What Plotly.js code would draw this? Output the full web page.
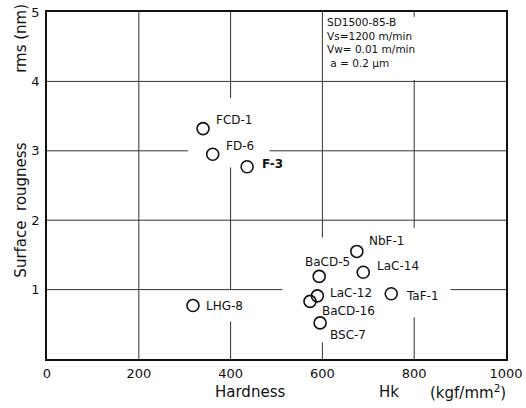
<!DOCTYPE html>
<html>
<head>
<meta charset="utf-8">
<script src="https://cdn.plot.ly/plotly-3.0.1.min.js"></script>
<style>html,body{margin:0;padding:0;background:#fff;}#chart{width:526px;height:408px;}</style>
</head>
<body>
<div id="chart"></div>
<script>
// ---- data ----
const glassNames = ["FCD-1","FD-6","F-3","LHG-8","NbF-1","BaCD-5","LaC-14","LaC-12","BaCD-16","TaF-1","BSC-7"];
const hardnessHk = [340, 361, 436, 318, 675, 593, 689, 589, 573, 750, 595];
const roughnessRms = [3.32, 2.95, 2.77, 0.77, 1.55, 1.19, 1.25, 0.91, 0.83, 0.94, 0.52];
const xTickValues = [0, 200, 400, 600, 800, 1000];
const yTickValues = [1, 2, 3, 4, 5];
const conditionLines = ["SD1500-85-B", "Vs=1200 m/min", "Vw= 0.01 m/min", " a = 0.2 μm"];

// ---- label placement (pixel offsets from each marker) ----
const labelStyle = {
  "FCD-1":  {xs: 11, ys: 9,   xa: "left"},
  "FD-6":   {xs: 11, ys: 8,   xa: "left"},
  "F-3":    {xs: 13, ys: 3,   xa: "left", bold: true},
  "LHG-8":  {xs: 11, ys: 0,   xa: "left"},
  "NbF-1":  {xs: 10, ys: 10,  xa: "left"},
  "BaCD-5": {xs: 8,  ys: 14,  xa: "center"},
  "LaC-14": {xs: 12, ys: 6,   xa: "left"},
  "LaC-12": {xs: 11, ys: 3,   xa: "left"},
  "BaCD-16":{xs: 10, ys: -10, xa: "left"},
  "TaF-1":  {xs: 13, ys: -2,  xa: "left"},
  "BSC-7":  {xs: 8,  ys: -12, xa: "left"}
};

const FONT = "DejaVu Sans, Liberation Sans, sans-serif";
const INK = "#111";

const trace = {
  type: "scatter",
  mode: "markers",
  x: hardnessHk,
  y: roughnessRms,
  text: glassNames,
  marker: {symbol: "circle-open", size: 12, color: INK, line: {width: 1.6, color: INK}},
  hoverinfo: "text+x+y",
  showlegend: false
};

const annotations = [];
glassNames.forEach((name, i) => {
  const s = labelStyle[name];
  annotations.push({
    x: hardnessHk[i], y: roughnessRms[i], xref: "x", yref: "y",
    text: s.bold ? "<b>" + name + "</b>" : name, showarrow: false,
    xanchor: s.xa, yanchor: "middle", xshift: s.xs, yshift: s.ys,
    font: {family: FONT, size: 12, color: INK}
  });
});

// condition text block (upper right)
annotations.push({
  x: 606, y: 4.97, xref: "x", yref: "y", text: conditionLines.join("<br>"), showarrow: false,
  xanchor: "left", yanchor: "top", align: "left",
  font: {family: FONT, size: 10.5, color: INK}
});

// axis titles as split annotations
const titleFont = {family: FONT, size: 15, color: INK};
annotations.push(
  {x: 0.442, y: -0.094, xref: "paper", yref: "paper", text: "Hardness", showarrow: false, xanchor: "center", yanchor: "middle", font: titleFont},
  {x: 0.745, y: -0.094, xref: "paper", yref: "paper", text: "Hk", showarrow: false, xanchor: "center", yanchor: "middle", font: titleFont},
  {x: 0.917, y: -0.094, xref: "paper", yref: "paper", text: "(kgf/mm<sup>2</sup>)", showarrow: false, xanchor: "center", yanchor: "middle", font: titleFont},
  {x: -0.057, y: 0.43, xref: "paper", yref: "paper", text: "Surface  rougness", textangle: -90, showarrow: false, xanchor: "center", yanchor: "middle", font: titleFont},
  {x: -0.057, y: 0.925, xref: "paper", yref: "paper", text: "rms (nm)", textangle: -90, showarrow: false, xanchor: "center", yanchor: "middle", font: titleFont}
);

// broken grid lines (as in the reference, interrupted around labels)
const gridSegs = [
  {v: 200, from: 0, to: 5, dir: "v"},
  {v: 400, from: 3.76, to: 5, dir: "v"},
  {v: 400, from: 1.0, to: 2.76, dir: "v"},
  {v: 400, from: 0, to: 0.54, dir: "v"},
  {v: 600, from: 1.75, to: 5, dir: "v"},
  {v: 600, from: 0, to: 0.24, dir: "v"},
  {v: 800, from: 4.93, to: 5, dir: "v"},
  {v: 800, from: 1.89, to: 4.02, dir: "v"},
  {v: 800, from: 0, to: 0.6, dir: "v"},
  {v: 4, from: 0, to: 1000, dir: "h"},
  {v: 3, from: 0, to: 307, dir: "h"},
  {v: 3, from: 485, to: 1000, dir: "h"},
  {v: 2, from: 0, to: 1000, dir: "h"},
  {v: 1, from: 0, to: 513, dir: "h"},
  {v: 1, from: 879, to: 1000, dir: "h"}
];
const shapes = gridSegs.map(g => g.dir === "v"
  ? {type: "line", xref: "x", yref: "y", x0: g.v, x1: g.v, y0: g.from, y1: g.to, layer: "below", line: {color: "#333", width: 1}}
  : {type: "line", xref: "x", yref: "y", y0: g.v, y1: g.v, x0: g.from, x1: g.to, layer: "below", line: {color: "#333", width: 1}});

const layout = {
  width: 526, height: 408,
  margin: {l: 47, r: 20, t: 12, b: 48.5, pad: 0},
  paper_bgcolor: "#fff", plot_bgcolor: "#fff",
  showlegend: false,
  xaxis: {
    range: [0, 1000], tickvals: xTickValues, ticks: "", showgrid: false, zeroline: false,
    showline: true, mirror: true, linecolor: INK, linewidth: 1.8,
    tickfont: {family: FONT, size: 13, color: INK}, ticklabelstandoff: 2
  },
  yaxis: {
    range: [0, 5], tickvals: yTickValues, ticks: "", showgrid: false, zeroline: false,
    showline: true, mirror: true, linecolor: INK, linewidth: 1.8,
    tickfont: {family: FONT, size: 13, color: INK}, ticklabelstandoff: 3
  },
  shapes: shapes,
  annotations: annotations
};

Plotly.newPlot("chart", [trace], layout, {displayModeBar: false, staticPlot: true});
</script>
</body>
</html>
